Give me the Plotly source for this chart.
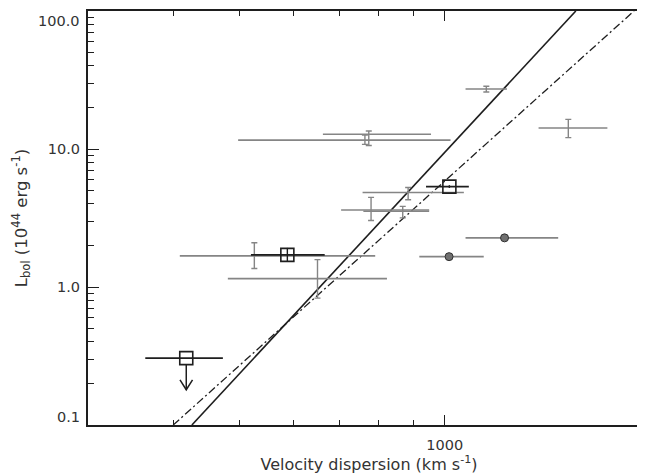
import numpy as np
import plotly.graph_objects as go

# ---------------- data (velocity dispersion in km/s, Lbol in 1e44 erg/s) ----------------
# grey points with x and y error bars
g_v   = [774, 764, 780, 868, 884, 526, 651, 1151, 1518]
g_vlo = [663, 498, 705, 760, 758, 409, 481, 1073, 1373]
g_vhi = [955, 1020, 949, 949, 1067, 791, 823, 1234, 1732]
g_L   = [12.8, 11.6, 3.61, 3.54, 4.84, 1.68, 1.15, 27.2, 14.2]
g_Llo = [10.6, 10.8, 3.03, 3.17, 4.29, 1.36, 0.83, 25.9, 12.1]
g_Lhi = [13.5, 12.6, 4.46, 3.84, 5.26, 2.09, 1.58, 28.5, 16.4]

# grey filled circles with x error bars
c_v   = [1224, 1015]
c_vlo = [1073, 918]
c_vhi = [1467, 1141]
c_L   = [2.27, 1.66]

# black open squares
s_v   = [588, 1016]
s_vlo = [520, 939]
s_vhi = [667, 1085]
s_L   = [1.71, 5.34]
s_Llo = [1.54, 5.22]
s_Lhi = [1.92, 5.47]

# upper limit
u_v   = [418]
u_vlo = [364]
u_vhi = [473]
u_L   = [0.305]
u_Lend = [0.18]

# fitted relations
fit1_v = [426, 1557]
fit1_L = [0.1, 100]
fit2_v = [400, 1895]
fit2_L = [0.1, 100]

# axis ranges and tick labels
x_range = [300, 2000]
y_range = [0.1, 100]
y_ticks = [0.1, 1, 10, 100]
y_ticktext = ["0.1", "1.0", "10.0", "100.0"]
y_minor = [v * m for v in (0.1, 1, 10) for m in range(2, 10)]
x_ticks = [1000]
x_ticktext = ["1000"]
x_minor = [300, 400, 500, 600, 700, 800, 900]

GREY = "#858585"
INK = "#1e1e1e"
TXT = "#333333"
FONT = "DejaVu Sans, Liberation Sans, Arial, sans-serif"
TICK_FS = 14.5

def errs(c, lo, hi):
    c = np.asarray(c, float)
    return np.asarray(hi, float) - c, c - np.asarray(lo, float)

fig = go.Figure()

# fit lines
fig.add_trace(go.Scatter(x=fit1_v, y=fit1_L, mode="lines",
                         line=dict(color=INK, width=1.6), hoverinfo="skip"))
fig.add_trace(go.Scatter(x=fit2_v, y=fit2_L, mode="lines",
                         line=dict(color=INK, width=1.3, dash="8px,3px,2px,3px"),
                         hoverinfo="skip"))

# grey points
gxp, gxm = errs(g_v, g_vlo, g_vhi)
gyp, gym = errs(g_L, g_Llo, g_Lhi)
fig.add_trace(go.Scatter(
    x=g_v, y=g_L, mode="markers",
    marker=dict(size=1, color="rgba(0,0,0,0)"),
    error_x=dict(type="data", symmetric=False, array=gxp, arrayminus=gxm,
                 color=GREY, thickness=1.6, width=0),
    error_y=dict(type="data", symmetric=False, array=gyp, arrayminus=gym,
                 color=GREY, thickness=1.4, width=3),
))

# grey circles
cxp, cxm = errs(c_v, c_vlo, c_vhi)
fig.add_trace(go.Scatter(
    x=c_v, y=c_L, mode="markers",
    marker=dict(size=8, color="#707070", line=dict(color="#303030", width=1)),
    error_x=dict(type="data", symmetric=False, array=cxp, arrayminus=cxm,
                 color=GREY, thickness=1.6, width=0),
))

# black squares
sxp, sxm = errs(s_v, s_vlo, s_vhi)
syp, sym = errs(s_L, s_Llo, s_Lhi)
fig.add_trace(go.Scatter(
    x=s_v, y=s_L, mode="markers",
    marker=dict(size=13, symbol="square-open", color=INK, line=dict(color=INK, width=1.6)),
    error_x=dict(type="data", symmetric=False, array=sxp, arrayminus=sxm,
                 color=INK, thickness=1.6, width=0),
    error_y=dict(type="data", symmetric=False, array=syp, arrayminus=sym,
                 color=INK, thickness=1.4, width=0),
))

# upper limit square with arrow
uxp, uxm = errs(u_v, u_vlo, u_vhi)
fig.add_trace(go.Scatter(
    x=u_v, y=u_L, mode="markers",
    marker=dict(size=13, symbol="square-open", color=INK, line=dict(color=INK, width=1.6)),
    error_x=dict(type="data", symmetric=False, array=uxp, arrayminus=uxm,
                 color=INK, thickness=1.6, width=0),
))
arm_dx = 10 ** 0.0092
arm_dy = 10 ** 0.072
for v, L0, L1 in zip(u_v, u_L, u_Lend):
    fig.add_trace(go.Scatter(
        x=[v, v, None, v / arm_dx, v, v * arm_dx],
        y=[L0 * 10 ** (-0.047), L1, None, L1 * arm_dy, L1, L1 * arm_dy],
        mode="lines", line=dict(color=INK, width=1.5), hoverinfo="skip"))

axis_common = dict(showgrid=False, zeroline=False, ticks="inside",
                   tickcolor=INK, tickwidth=1.3, showline=True,
                   linecolor=INK, linewidth=2, mirror="ticks")

# end labels of the y axis are kept inside the frame (as in the reference)
inner_text = [t if v not in (y_range[0], y_range[1]) else "" for v, t in zip(y_ticks, y_ticktext)]
end_labels = [
    dict(text=y_ticktext[-1], xref="paper", yref="paper", x=0, y=1,
         xanchor="right", yanchor="top", xshift=-6, yshift=0, showarrow=False,
         font=dict(size=TICK_FS, color=TXT)),
    dict(text=y_ticktext[0], xref="paper", yref="paper", x=0, y=0,
         xanchor="right", yanchor="bottom", xshift=-6, yshift=-2, showarrow=False,
         font=dict(size=TICK_FS, color=TXT)),
]

# page body has an 8px margin: the figure is offset by (8, 8) in the window
fig.update_layout(
    width=645, height=473,
    margin=dict(l=80, r=1, t=1, b=56),
    plot_bgcolor="white", paper_bgcolor="white",
    showlegend=False,
    font=dict(family=FONT, size=TICK_FS, color=TXT),
    annotations=end_labels,
    xaxis=dict(type="log", range=[np.log10(x_range[0]), np.log10(x_range[1])],
               tickvals=x_ticks, ticktext=x_ticktext, ticklen=10,
               ticklabelstandoff=6,
               minor=dict(tickvals=x_minor, ticks="inside", ticklen=5,
                          tickcolor=INK, tickwidth=1.2),
               title=dict(text="Velocity dispersion (km s<sup>-1</sup>)", standoff=4,
                          font=dict(size=16, color=TXT)),
               **axis_common),
    yaxis=dict(type="log", range=[np.log10(y_range[0]), np.log10(y_range[1])],
               tickvals=y_ticks, ticktext=inner_text, ticklen=11,
               ticklabelstandoff=3,
               minor=dict(tickvals=y_minor, ticks="inside", ticklen=6,
                          tickcolor=INK, tickwidth=1.2),
               title=dict(text="L<sub>bol</sub> (10<sup>44</sup> erg s<sup>-1</sup>)",
                          standoff=16, font=dict(size=16.5, color=TXT)),
               **axis_common),
)

fig.write_html("out.html")
